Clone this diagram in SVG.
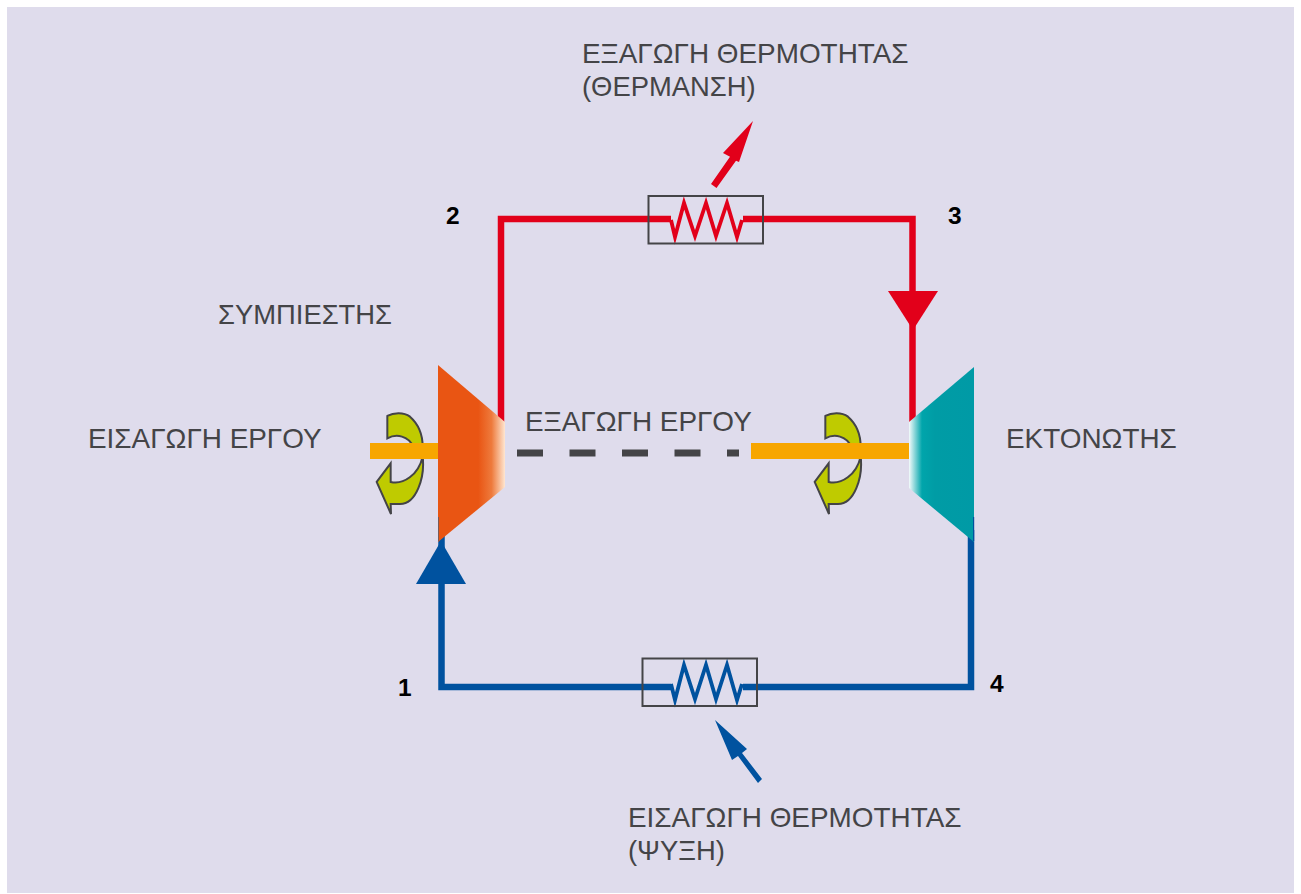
<svg xmlns="http://www.w3.org/2000/svg" width="1301" height="894" viewBox="0 0 1301 894">
<style>
.t{font-family:"Liberation Sans",Arial,sans-serif;font-size:27.9px;fill:#444447}
.s{font-size:27.4px}
.n{font-family:"Liberation Sans",Arial,sans-serif;font-size:24.500px;font-weight:bold;fill:#000}
.box{fill:none;stroke:#444447;stroke-width:2}
.rl{fill:none;stroke:#e2001a;stroke-width:6.5}
.bl{fill:none;stroke:#00529f;stroke-width:6.5}
.rz{fill:none;stroke:#e2001a;stroke-width:3.8;stroke-miterlimit:12}
.bz{fill:none;stroke:#00529f;stroke-width:3.8;stroke-miterlimit:12}
.shaft{fill:#f7a600}
.rot{fill:#bfcb00;stroke:#444447;stroke-width:6}
</style>
<defs>
<linearGradient id="gc" x1="438" x2="505" y1="0" y2="0" gradientUnits="userSpaceOnUse">
<stop offset="0" stop-color="#e95513"/><stop offset="0.6" stop-color="#e95513"/><stop offset="0.8" stop-color="#ee7a3c"/><stop offset="1" stop-color="#ffe6d0"/>
</linearGradient>
<linearGradient id="ge" x1="909" x2="974" y1="0" y2="0" gradientUnits="userSpaceOnUse">
<stop offset="0" stop-color="#f4fbfb"/><stop offset="0.2" stop-color="#00a5ab"/><stop offset="0.4" stop-color="#009ca5"/><stop offset="1" stop-color="#009aa6"/>
</linearGradient>
<path id="rotation" class="rot" d="M112 198C130 188 160 185 180 200C205 222 218 250 218 290L190 290C175 258 140 250 112 265ZM218 320C225 380 200 462 150 462L122 462L123 492L80 396L122 340L122 396C160 405 205 375 218 320Z"/>
</defs>
<rect width="1301" height="894" fill="#fff"/>
<rect x="7" y="7" width="1287" height="886" fill="#dfdcec"/>
<g id="connectors">
<path class="rl" d="M501 422V219H671M743 219H912.500V422"/>
<path class="bl" d="M441.500 530V687H671M743 687H971V530"/>
<path d="M888 291H938L913 330Z" fill="#e2001a"/>
<path d="M416 584H466L441 541Z" fill="#00529f"/>
<path d="M711 184L716.500 188L736 160.700L739 162L753 121L723 153L730 156.700Z" fill="#e2001a"/>
<path d="M758 783L762 779L742 753L747 749L715 720L732 760L738 756Z" fill="#00529f"/>
<path d="M517 453H739" fill="none" stroke="#444447" stroke-width="7" stroke-dasharray="26 26.500"/>
</g>
<g id="heater">
<path class="rz" d="M671 220L675 237L684 203L695 236L706 203L716 236L727 203L737 237L742 220"/>
<rect class="box" x="648.500" y="196" width="114.500" height="47.500"/>
</g>
<g id="cooler">
<path class="bz" d="M671 684L675 700L684 665L695 699L706 665L716 699L727 665L737 700L742 684"/>
<rect class="box" x="642.500" y="658.500" width="114.500" height="47.500"/>
</g>
<g id="compressor">
<use href="#rotation" transform="translate(350 350) scale(.3333)"/>
<rect class="shaft" x="370" y="443" width="68" height="16"/>
<path d="M438 365L505 422V487L438 542Z" fill="url(#gc)"/>
<rect x="438" y="517" width="1" height="24" fill="#7a5a58"/>
</g>
<g id="expander">
<use href="#rotation" transform="translate(788 350) scale(.3333)"/>
<rect class="shaft" x="751" y="443" width="158" height="16"/>
<path d="M974 367L909 422V488L974 542Z" fill="url(#ge)"/>
<rect x="973" y="517" width="1.200" height="24" fill="#00529f"/>
</g>
<g id="labels">
<text class="t" x="582" y="63">ΕΞΑΓΩΓΗ ΘΕΡΜΟΤΗΤΑΣ</text>
<text class="t s" x="582" y="96">(ΘΕΡΜΑΝΣΗ)</text>
<text class="t s" x="218" y="324">ΣΥΜΠΙΕΣΤΗΣ</text>
<text class="t" x="88" y="448">ΕΙΣΑΓΩΓΗ ΕΡΓΟΥ</text>
<text class="t" x="525" y="431">ΕΞΑΓΩΓΗ ΕΡΓΟΥ</text>
<text class="t" x="1006" y="448">ΕΚΤΟΝΩΤΗΣ</text>
<text class="t" x="628" y="827">ΕΙΣΑΓΩΓΗ ΘΕΡΜΟΤΗΤΑΣ</text>
<text class="t s" x="628" y="860">(ΨΥΞΗ)</text>
<text class="n" x="446" y="224">2</text>
<text class="n" x="948" y="224">3</text>
<text class="n" x="398" y="696">1</text>
<text class="n" x="990" y="692">4</text>
</g>
</svg>
